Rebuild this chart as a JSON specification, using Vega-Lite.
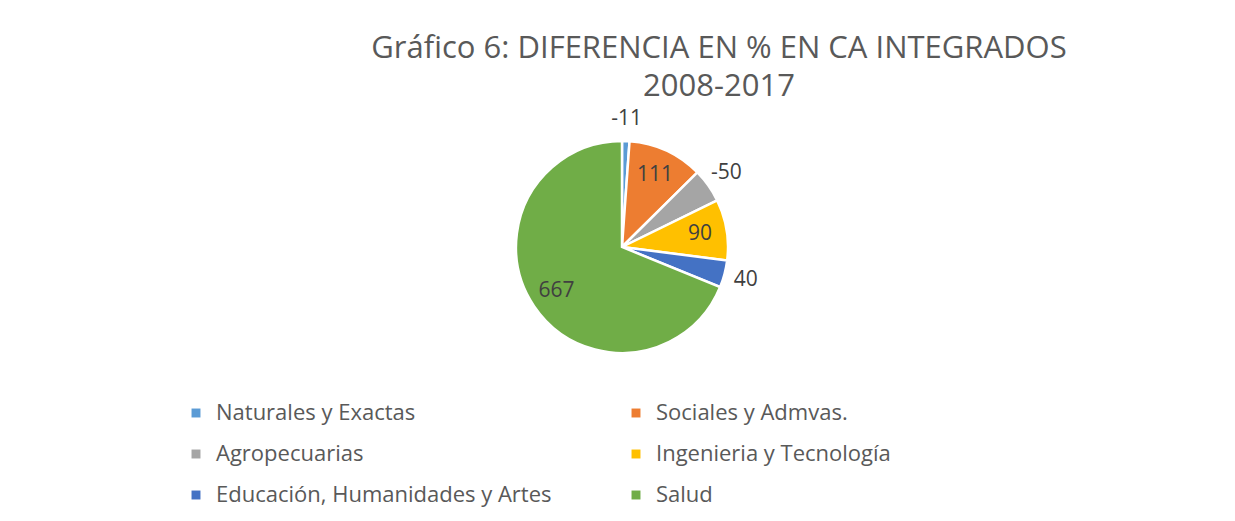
{
  "$schema": "https://vega.github.io/schema/vega-lite/v6.json",
  "autosize": "none",
  "width": 1226,
  "height": 294,
  "padding": {"top": 100, "left": 9, "right": 0, "bottom": 127},
  "background": "white",
  "title": {
    "text": ["Gráfico 6: DIFERENCIA EN % EN CA INTEGRADOS", "2008-2017"],
    "font": "Open Sans",
    "fontSize": 31,
    "fontWeight": "normal",
    "color": "#595959",
    "lineHeight": 38,
    "anchor": "middle",
    "dx": 97,
    "offset": -3
  },
  "data": {
    "values": [
      {"orden": 1, "categoria": "Naturales y Exactas", "valor": -11, "magnitud": 11},
      {"orden": 2, "categoria": "Sociales y Admvas.", "valor": 111, "magnitud": 111},
      {"orden": 3, "categoria": "Agropecuarias", "valor": -50, "magnitud": 50},
      {"orden": 4, "categoria": "Ingenieria y Tecnología", "valor": 90, "magnitud": 90},
      {"orden": 5, "categoria": "Educación, Humanidades y Artes", "valor": 40, "magnitud": 40},
      {"orden": 6, "categoria": "Salud", "valor": 667, "magnitud": 667}
    ]
  },
  "encoding": {
    "theta": {"field": "magnitud", "type": "quantitative", "stack": true},
    "order": {"field": "orden", "type": "quantitative"}
  },
  "layer": [
    {
      "mark": {"type": "arc", "outerRadius": 106, "stroke": "white", "strokeWidth": 2.5},
      "encoding": {
        "color": {
          "field": "categoria",
          "type": "nominal",
          "sort": ["Naturales y Exactas", "Sociales y Admvas.", "Agropecuarias", "Ingenieria y Tecnología", "Educación, Humanidades y Artes", "Salud"],
          "scale": {
            "domain": ["Naturales y Exactas", "Sociales y Admvas.", "Agropecuarias", "Ingenieria y Tecnología", "Educación, Humanidades y Artes", "Salud"],
            "range": ["#5B9BD5", "#ED7D31", "#A5A5A5", "#FFC000", "#4472C4", "#70AD47"]
          },
          "legend": {
            "title": null,
            "orient": "none",
            "legendX": 176,
            "legendY": 302,
            "direction": "horizontal",
            "columns": 2,
            "symbolType": "square",
            "symbolSize": 80,
            "symbolStrokeWidth": 0,
            "labelFont": "Open Sans",
            "labelFontSize": 22,
            "labelColor": "#595959",
            "labelLimit": 600,
            "labelOffset": 9,
            "rowPadding": 19,
            "columnPadding": 73
          }
        }
      }
    },
    {
      "mark": {"type": "text", "radius": 79, "font": "Open Sans", "fontSize": 21, "fill": "#404040"},
      "encoding": {
        "text": {"field": "valor", "type": "nominal"},
        "opacity": {
          "condition": {"test": "datum.categoria === 'Sociales y Admvas.' || datum.categoria === 'Ingenieria y Tecnología' || datum.categoria === 'Salud'", "value": 1},
          "value": 0
        }
      }
    },
    {
      "mark": {"type": "text", "radius": 128, "font": "Open Sans", "fontSize": 21, "fill": "#404040"},
      "encoding": {
        "text": {"field": "valor", "type": "nominal"},
        "opacity": {
          "condition": {"test": "datum.categoria === 'Sociales y Admvas.' || datum.categoria === 'Ingenieria y Tecnología' || datum.categoria === 'Salud'", "value": 0},
          "value": 1
        }
      }
    }
  ],
  "config": {"view": {"stroke": null}}
}
